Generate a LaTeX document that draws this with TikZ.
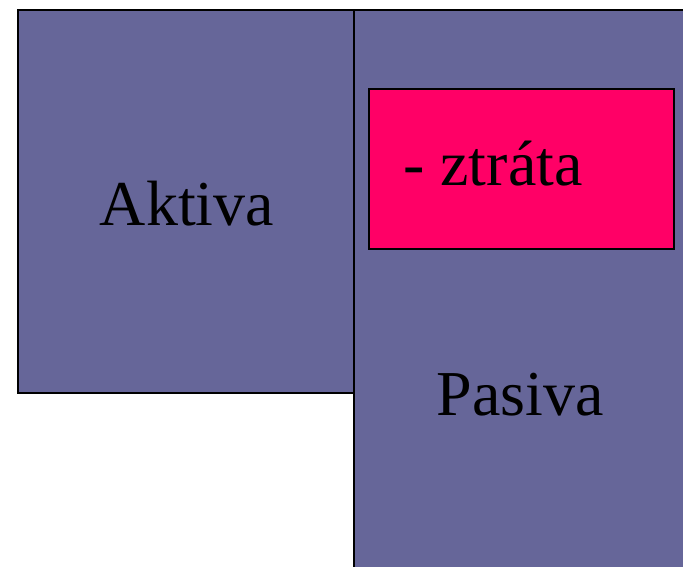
\documentclass[tikz,border=0pt]{standalone}
\usepackage{fontspec}
\setmainfont{Liberation Serif}
\usetikzlibrary{positioning}
\definecolor{bilanceFill}{HTML}{666699}
\definecolor{ztrataFill}{HTML}{FF0066}
\tikzset{
    blok/.style={draw=black, line width=2pt, inner sep=0pt, anchor=north west},
    popis/.style={font=\fontsize{64}{70}\selectfont, inner sep=0pt}
}
\begin{document}
\begin{tikzpicture}[x=1pt,y=-1pt]
    \useasboundingbox (0,0) rectangle (683,566);
    \clip (0,0) rectangle (683,566);
    \node[blok, fill=bilanceFill, minimum width=336pt, minimum height=383pt] (aktiva) at (17,9) {};
    \node[blok, fill=bilanceFill, minimum width=345pt, minimum height=580pt] (pasiva) at (353,9) {};
    \node[blok, fill=ztrataFill, minimum width=305pt, minimum height=160pt] (ztrata) at (368,88) {};

    \node[popis, anchor=base] (aktivaText) at (187,225) {Aktiva};
    \node[popis, anchor=base west] (ztrataText) at (403,185) {- ztráta};
    \node[popis, anchor=base] (pasivaText) at (520,415) {Pasiva};
\end{tikzpicture}
\end{document}
